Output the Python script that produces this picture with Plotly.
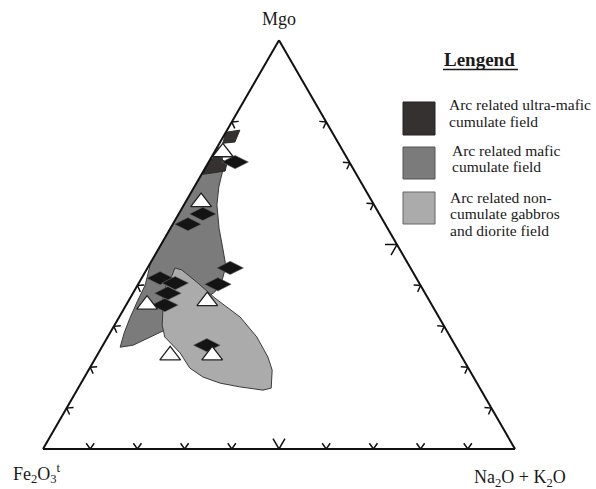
import math
import plotly.graph_objects as go

# ---- data (percent; MgO apex, Fe2O3t lower-left, Na2O+K2O lower-right) ----
diamond_mgo = [70.2, 57.5, 55.0, 44.3, 40.3, 41.8, 40.6, 38.1, 35.2, 25.4]
diamond_fe = [24.2, 37.4, 41.8, 38.2, 42.8, 54.3, 51.7, 54.5, 56.6, 52.6]
diamond_alk = [5.6, 5.1, 3.2, 17.5, 16.9, 3.9, 7.7, 7.4, 8.2, 22.0]

triangle_mgo = [72.6, 60.4, 35.3, 36.2, 22.9, 22.9]
triangle_fe = [25.6, 36.3, 60.3, 47.1, 61.6, 52.7]
triangle_alk = [1.8, 3.3, 4.4, 16.7, 15.5, 24.4]

# Arc related mafic cumulate field
mafic_mgo = [74.0, 45.7, 40.1, 36.4, 32.0, 28.4, 24.9, 25.4, 29.1, 35.2,
             38.4, 41.3, 44.7, 48.7, 54.0, 59.7, 64.1, 68.2, 71.9]
mafic_fe = [26.0, 54.3, 58.3, 61.7, 65.6, 68.6, 71.2, 68.2, 59.6, 50.2,
            44.4, 41.4, 38.9, 37.5, 35.7, 33.3, 30.7, 27.8, 26.1]
mafic_alk = [0.0, 0.0, 1.6, 1.9, 2.4, 3.0, 3.9, 6.4, 11.3, 14.6,
             17.2, 17.3, 16.4, 13.8, 10.3, 7.0, 5.2, 4.0, 2.0]

# Arc related ultra-mafic cumulate field (two small patches)
ultra1_mgo = [77.5, 78.0, 75.1, 74.8]
ultra1_fe = [22.5, 19.3, 21.8, 24.5]
ultra1_alk = [0.0, 2.7, 3.1, 0.7]
ultra2_mgo = [67.2, 70.2, 71.9, 69.9, 68.0]
ultra2_fe = [32.5, 29.8, 27.2, 26.1, 27.4]
ultra2_alk = [0.3, 0.0, 0.9, 4.0, 4.6]

# Arc related non-cumulate gabbros and diorite field
noncum_mgo = [44.3, 43.8, 40.8, 36.9, 32.3, 27.4, 22.5, 19.3, 14.9, 14.4, 15.2,
              16.1, 17.6, 19.8, 23.5, 27.4, 30.3, 34.0, 38.1, 40.6, 42.5]
noncum_fe = [49.9, 48.7, 47.0, 45.1, 42.1, 41.0, 41.1, 41.8, 44.2, 46.2, 50.7,
             54.4, 57.3, 59.0, 59.2, 60.5, 59.6, 57.6, 55.5, 53.4, 51.4]
noncum_alk = [5.8, 7.5, 12.2, 18.0, 25.6, 31.6, 36.4, 38.9, 40.9, 39.4, 34.1,
              29.5, 25.1, 21.2, 17.3, 12.1, 10.1, 8.4, 6.4, 6.0, 6.1]

# tick positions (percent along each side)
bottom_ticks = [10, 20, 30, 40, 50, 60, 70, 80, 90]
side_ticks = [10, 20, 30, 40, 50, 60, 70, 80]

# ---- page geometry ----
W, H = 596, 489
X0, X1, Y_BASE = 43, 515, 449
SIDE = X1 - X0
TRI_H = SIDE * math.sqrt(3) / 2
Y_TOP = Y_BASE - TRI_H


def px(x):
    return x / W


def py(y):
    return 1 - y / H


def shift(a, b, c, dx, dy):
    """Move a ternary point by a pixel offset (dx right, dy up)."""
    da = dy / TRI_H * 100
    dc = dx / SIDE * 100 - da / 2
    return a + da, b - da - dc, c + dc


def chevron(a, b, c, phi, length, half):
    pts = []
    for ang in (phi + half, None, phi - half):
        if ang is None:
            pts.append((a, b, c))
        else:
            r = math.radians(ang)
            pts.append(shift(a, b, c, length * math.cos(r), length * math.sin(r)))
    pts.append((None, None, None))
    return pts


tick_pts = []
for v in bottom_ticks:
    big = v == 50
    tick_pts += chevron(0, 100 - v, v, 90, 12 if big else 7, 30 if big else 35)
for v in side_ticks:
    big = v == 50
    tick_pts += chevron(v, 100 - v, 0, -30, 12 if big else 7, 30 if big else 35)
    tick_pts += chevron(v, 0, 100 - v, 210, 12 if big else 7, 30 if big else 35)

fig = go.Figure()

fig.add_trace(go.Scatterternary(
    a=[p[0] for p in tick_pts], b=[p[1] for p in tick_pts], c=[p[2] for p in tick_pts],
    mode="lines", line=dict(color="#111111", width=1.5),
    hoverinfo="skip", showlegend=False))


def field(a, b, c, fill, edge):
    fig.add_trace(go.Scatterternary(
        a=a + a[:1], b=b + b[:1], c=c + c[:1], mode="lines", fill="toself",
        fillcolor=fill, line=dict(color=edge, width=1),
        hoverinfo="skip", showlegend=False))


field(mafic_mgo, mafic_fe, mafic_alk, "#7b7b7b", "#3a3a3a")
field(ultra1_mgo, ultra1_fe, ultra1_alk, "#353130", "#2a2a2a")
field(ultra2_mgo, ultra2_fe, ultra2_alk, "#353130", "#2a2a2a")
field(noncum_mgo, noncum_fe, noncum_alk, "#ababab", "#3a3a3a")

fig.add_trace(go.Scatterternary(
    a=diamond_mgo, b=diamond_fe, c=diamond_alk, mode="markers",
    marker=dict(symbol="diamond-wide", size=19, color="#141414",
                line=dict(color="#6a6a6a", width=0.6)),
    hoverinfo="skip", showlegend=False))

fig.add_trace(go.Scatterternary(
    a=triangle_mgo, b=triangle_fe, c=triangle_alk, mode="markers",
    marker=dict(symbol="triangle-up", size=18, color="white",
                line=dict(color="#222222", width=1.3)),
    hoverinfo="skip", showlegend=False))

axis_style = dict(showline=True, linecolor="#111111", linewidth=2,
                  showgrid=False, showticklabels=False, ticks="", title=dict(text=""))

fig.update_layout(
    width=W, height=H,
    margin=dict(l=0, r=0, t=0, b=0),
    paper_bgcolor="white",
    ternary=dict(
        sum=100,
        bgcolor="white",
        domain=dict(x=[px(X0), px(X1)], y=[py(Y_BASE), py(Y_TOP)]),
        aaxis=axis_style, baxis=axis_style, caxis=axis_style,
    ),
    font=dict(family="Liberation Serif", color="#1a1a1a"),
)

ann = []
ann.append(dict(text="Mgo", x=px(279), y=py(19), font=dict(size=18)))
ann.append(dict(text="Fe<sub>2</sub>O<sub>3</sub><sup>t</sup>", x=px(37), y=py(473),
                font=dict(size=18)))
ann.append(dict(text="Na<sub>2</sub>O + K<sub>2</sub>O", x=px(520), y=py(478),
                font=dict(size=18)))
ann.append(dict(text="<b>Lengend</b>", x=px(480), y=py(59), font=dict(size=19)))

legend_items = [
    ("#353130", "#222222", ["Arc related ultra-mafic", "cumulate field"], 102, 135, 447),
    ("#7b7b7b", "#555555", ["Arc related mafic", "cumulate field"], 147, 179, 450),
    ("#ababab", "#666666", ["Arc related non-", "cumulate gabbros", "and diorite field"], 192, 224, 448),
]
shapes = [dict(type="line", xref="paper", yref="paper", x0=px(443), x1=px(518),
               y0=py(69.5), y1=py(69.5), line=dict(color="#1a1a1a", width=1.6))]
line_y0 = [105, 150, 197]
for (fill, edge, lines, y0, y1, tx), ly in zip(legend_items, line_y0):
    shapes.append(dict(type="rect", xref="paper", yref="paper",
                       x0=px(403), x1=px(435), y0=py(y1), y1=py(y0),
                       fillcolor=fill, line=dict(color=edge, width=1)))
    for i, t in enumerate(lines):
        ann.append(dict(text=t, x=px(tx), y=py(ly + 16.5 * i), xanchor="left",
                        font=dict(size=15.5)))

for a_ in ann:
    a_.setdefault("xanchor", "center")
    a_.update(xref="paper", yref="paper", yanchor="middle", showarrow=False)

fig.update_layout(annotations=ann, shapes=shapes)

fig.write_html("out.html")
